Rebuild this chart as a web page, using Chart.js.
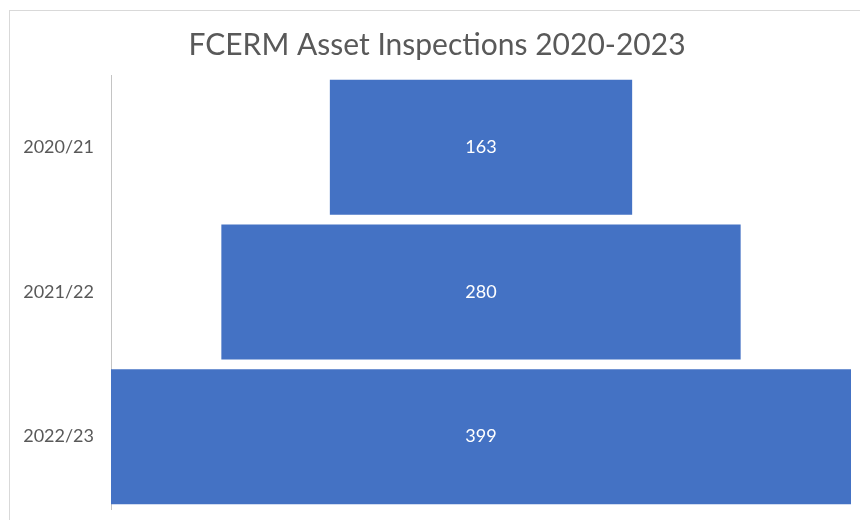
<!DOCTYPE html>
<html>
<head>
<meta charset="utf-8">
<script src="https://cdn.jsdelivr.net/npm/chart.js@4/dist/chart.umd.min.js"></script>
<style>
  html, body { margin: 0; padding: 0; background: #fff; }
  #wrap { position: relative; width: 860px; height: 520px; overflow: hidden; }
  #frame { position: absolute; left: 9px; top: 10px; width: 900px; height: 600px; border: 1px solid #d9d9d9; box-sizing: border-box; }
  canvas { position: absolute; left: 0; top: 0; }
</style>
</head>
<body>
<div id="wrap">
  <div id="frame"></div>
  <canvas id="chart" width="866" height="520"></canvas>
</div>
<script>
// Funnel of FCERM asset inspections per financial year
const years = ['2020/21', '2021/22', '2022/23'];
const inspections = [163, 280, 399];
const chartTitle = 'FCERM Asset Inspections 2020-2023';

const FONT = 'Lato, "Open Sans", "Liberation Sans", sans-serif';
const GREY = '#595959';

// Each bar is centred on the midpoint of the widest stage, giving the funnel shape
const widest = Math.max(...inspections);
const centre = widest / 2;
const spans = inspections.map(v => [centre - v / 2, centre + v / 2]);

// Value printed in the middle of each funnel stage
const valueLabels = {
  id: 'valueLabels',
  afterDatasetsDraw(chart) {
    const { ctx } = chart;
    const meta = chart.getDatasetMeta(0);
    ctx.save();
    ctx.fillStyle = '#ffffff';
    ctx.font = '18px ' + FONT;
    ctx.textAlign = 'center';
    ctx.textBaseline = 'middle';
    meta.data.forEach((bar, i) => {
      const p = bar.getProps(['x', 'base', 'y'], true);
      ctx.fillText(String(inspections[i]), (p.x + p.base) / 2, p.y);
    });
    ctx.restore();
  }
};

// Fixed-size axes: no extra label padding pushed into the plot area
function fixedWidth(w) {
  return scale => {
    scale.width = w;
    scale.paddingTop = 0;
    scale.paddingBottom = 0;
  };
}

new Chart(document.getElementById('chart'), {
  type: 'bar',
  data: {
    labels: years,
    datasets: [{
      data: spans,
      backgroundColor: '#4472C4',
      borderWidth: 0,
      barPercentage: 0.933,
      categoryPercentage: 1
    }]
  },
  options: {
    indexAxis: 'y',
    responsive: false,
    animation: false,
    layout: { padding: { left: 10, right: 2, top: 0, bottom: 11 } },
    plugins: {
      legend: { display: false },
      tooltip: { enabled: false },
      title: {
        display: true,
        text: chartTitle,
        color: GREY,
        font: { family: FONT, size: 30, weight: 'normal', lineHeight: 1.2 },
        padding: { top: 27, bottom: 12 }
      }
    },
    scales: {
      x: { display: false, min: 0, max: widest },
      y: {
        grid: { display: false, drawTicks: false },
        border: { display: true, color: '#c4c4c4', dash: [3, 2], width: 1 },
        ticks: {
          color: GREY,
          font: { family: FONT, size: 18 },
          padding: 17
        },
        afterFit: fixedWidth(101)
      },
      spacer: {
        type: 'linear',
        position: 'right',
        grid: { display: false, drawTicks: false },
        border: { display: false },
        ticks: { display: false },
        afterFit: fixedWidth(13)
      }
    }
  },
  plugins: [valueLabels]
});
</script>
</body>
</html>
